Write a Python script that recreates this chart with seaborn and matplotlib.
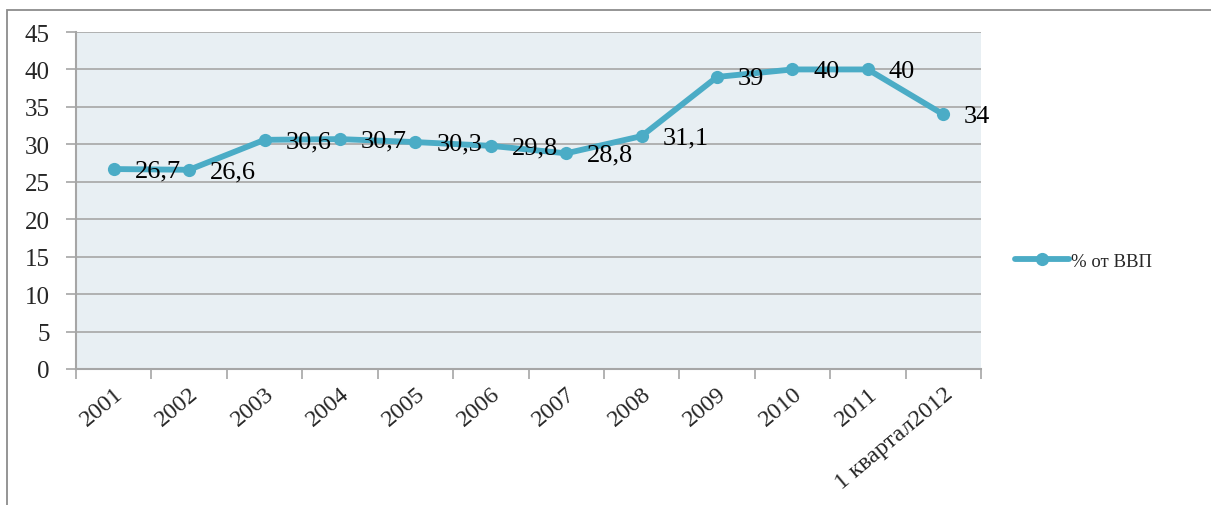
import matplotlib
matplotlib.use("Agg")
import matplotlib.pyplot as plt
import matplotlib.patches as mpatches
from matplotlib.ticker import MultipleLocator, FixedLocator
import seaborn as sns
import pandas as pd

# chart data
years = ["2001", "2002", "2003", "2004", "2005", "2006", "2007", "2008",
         "2009", "2010", "2011", "1 квартал2012"]
share_gdp = [26.7, 26.6, 30.6, 30.7, 30.3, 29.8, 28.8, 31.1, 39, 40, 40, 34]
value_labels = ["26,7", "26,6", "30,6", "30,7", "30,3", "29,8", "28,8", "31,1",
                "39", "40", "40", "34"]
series_name = "% от ВВП"

df = pd.DataFrame({"year": years, "value": share_gdp})

sns.set_style("white")
plt.rcParams["font.family"] = ["Liberation Serif", "DejaVu Serif"]

line_color = "#4bacc6"
grid_color = "#a6a6a6"

fig = plt.figure(figsize=(12.11, 5.06), dpi=100)
ax = fig.add_axes([76 / 1211, 1 - 370 / 506, (981 - 76) / 1211, (370 - 33) / 506])
ax.set_facecolor("#e8eff3")

sns.lineplot(data=df, x="year", y="value", ax=ax, color=line_color,
             linewidth=4.2, marker="o", markersize=9.5, markeredgewidth=0,
             label=series_name, sort=False)

for i, (v, txt) in enumerate(zip(share_gdp, value_labels)):
    ax.annotate(txt, xy=(i, v), xytext=(15, -1), textcoords="offset points",
                ha="left", va="center", fontsize=19, color="black")

ax.set_xlim(-0.5, len(years) - 0.5)
ax.set_ylim(0, 45)
ax.yaxis.set_major_locator(MultipleLocator(5))
ax.grid(axis="y", color=grid_color, linewidth=1.2)
ax.set_axisbelow(True)

ax.set_xlabel("")
ax.set_ylabel("")
ax.xaxis.set_minor_locator(FixedLocator([i - 0.5 for i in range(len(years) + 1)]))
ax.tick_params(axis="x", which="major", length=0, pad=10, labelsize=17.5)
ax.tick_params(axis="x", which="minor", length=7, color=grid_color, width=1.2,
               direction="out", bottom=True)
ax.tick_params(axis="y", length=7, color=grid_color, width=1.2, direction="out",
               left=True, labelsize=18, pad=12)
for lbl in ax.get_xticklabels():
    lbl.set_rotation(40)
    lbl.set_ha("right")
    lbl.set_rotation_mode("anchor")

for side in ["top", "right"]:
    ax.spines[side].set_visible(False)
for side in ["left", "bottom"]:
    ax.spines[side].set_color(grid_color)
    ax.spines[side].set_linewidth(1.5)

leg = ax.legend(loc="center left", bbox_to_anchor=(998 / 1211, 1 - 262 / 506),
                bbox_transform=fig.transFigure, frameon=False, fontsize=13.5,
                handlelength=2.9, handletextpad=0.1)

# outer chart border
fig.patches.append(mpatches.Rectangle((7 / 1211, -0.1), 1.2, 1.1 - 11 / 506,
                                      transform=fig.transFigure, fill=False,
                                      edgecolor="#8c8c8c", linewidth=1.3))

fig.savefig("out.png", dpi=100)
